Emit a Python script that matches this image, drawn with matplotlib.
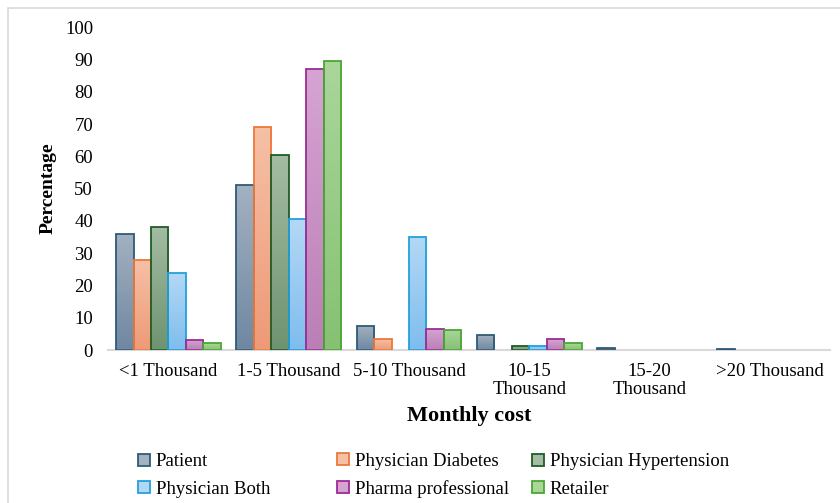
import matplotlib
matplotlib.use("Agg")
import matplotlib.pyplot as plt
import matplotlib.colors as mcolors
import numpy as np

plt.rcParams['font.family'] = ['Liberation Serif', 'DejaVu Serif']

categories = ['<1 Thousand', '1-5 Thousand', '5-10 Thousand', '10-15\nThousand', '15-20\nThousand', '>20 Thousand']
series = ['Patient', 'Physician Diabetes', 'Physician Hypertension', 'Physician Both', 'Pharma professional', 'Retailer']
patient = [36, 51, 7.5, 4.6, 0.7, 0.4]
phys_diabetes = [28, 69, 3.4, 0, 0, 0]
phys_hypertension = [38.2, 60.3, 0, 1.3, 0, 0]
phys_both = [23.8, 40.5, 35, 1.3, 0, 0]
pharma = [3.2, 87, 6.6, 3.3, 0, 0]
retailer = [2.1, 89.5, 6.3, 2.1, 0, 0]
values = [patient, phys_diabetes, phys_hypertension, phys_both, pharma, retailer]

# (top colour, bottom colour, edge colour)
styles = [
    ('#a3b1c0', '#6f88a2', '#2e5a78'),
    ('#f6c0a6', '#ee9a76', '#ec7a3a'),
    ('#a3bca3', '#6f9370', '#1e5c27'),
    ('#b3d8f5', '#7fbdee', '#22a0dc'),
    ('#d6a4d2', '#bb7fb6', '#9c2c96'),
    ('#aad69a', '#86c173', '#4aa733'),
]

fig = plt.figure(figsize=(8.4, 5.03), dpi=100)
fig.patches.append(plt.Rectangle((0.0095, -0.01), 1.0, 0.995, transform=fig.transFigure,
                                 fill=False, edgecolor='#d9d9d9', linewidth=1.2))
ax = fig.add_axes([0.129, 0.304, 0.859, 0.642])

x = np.arange(len(categories))
width = 0.145
n = len(series)
handles = []
for i, (name, vals, (ctop, cbot, cedge)) in enumerate(zip(series, values, styles)):
    pos = x + (i - (n - 1) / 2) * width
    bars = ax.bar(pos, vals, width, facecolor='none', edgecolor=cedge, linewidth=1.3,
                  label=name, zorder=3)
    cmap = mcolors.LinearSegmentedColormap.from_list(name, [cbot, ctop])
    grad = np.linspace(0, 1, 64).reshape(-1, 1)
    for b in bars:
        h = b.get_height()
        if h <= 0:
            b.set_visible(False)
            continue
        bx, by = b.get_x(), b.get_y()
        im = ax.imshow(grad, cmap=cmap, origin='lower', aspect='auto',
                       extent=[bx, bx + b.get_width(), by, by + h], zorder=2)
        im.set_clip_path(b)
    handles.append(plt.Rectangle((0, 0), 1, 1, facecolor=ctop, edgecolor=cedge, linewidth=1.3))

ax.set_xlim(-0.5, len(categories) - 0.5)
ax.set_ylim(0, 100)
ax.set_yticks(range(0, 101, 10))
ax.set_xticks(x)
ax.set_xticklabels(categories, fontsize=13.5, linespacing=1.1)
ax.tick_params(axis='y', labelsize=13.5, length=0, pad=11)
ax.tick_params(axis='x', length=0, pad=9)
for s in ['top', 'right', 'left']:
    ax.spines[s].set_visible(False)
ax.spines['bottom'].set_color('#d9d9d9')
ax.spines['bottom'].set_linewidth(1.5)

ax.set_ylabel('Percentage', fontsize=14, fontweight='bold', labelpad=6)
ax.set_xlabel('Monthly cost', fontsize=16, fontweight='bold', labelpad=6)

# legend: three columns of two rows, filled row by row
col_x = [0.151, 0.388, 0.620]
for c in range(3):
    idx = [c, c + 3]
    fig.legend([handles[k] for k in idx], [series[k] for k in idx], loc='lower left',
               bbox_to_anchor=(col_x[c], -0.012), ncol=1, frameon=False, fontsize=13.5,
               handlelength=0.65, handleheight=0.65, handletextpad=0.3,
               labelspacing=0.55, borderaxespad=0.2)

fig.savefig('out.png', dpi=100)
